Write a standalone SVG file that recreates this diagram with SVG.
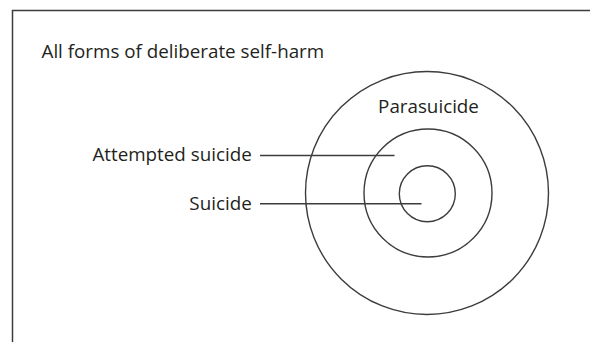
<svg xmlns="http://www.w3.org/2000/svg" width="590" height="342" viewBox="0 0 590 342">
<style>
.frame{fill:none;stroke:#3c3c3c;stroke-width:1.5}
.ring{fill:none;stroke:#3c3c3c;stroke-width:1.4}
.lead{stroke:#3c3c3c;stroke-width:1.4}
text{font-family:"Open Sans","Noto Sans",sans-serif;font-size:18.8px;fill:#231f20}
</style>
<rect width="590" height="342" fill="#fff"/>
<path class="frame" d="M12.5 342 V10.5 H590"/>
<text x="41.5" y="57.7">All forms of deliberate self-harm</text>
<g id="parasuicide">
<circle class="ring" cx="427" cy="193" r="121.5"/>
<text x="428.5" y="113" text-anchor="middle">Parasuicide</text>
</g>
<g id="attempted-suicide">
<circle class="ring" cx="428" cy="193" r="64"/>
<text x="251.7" y="161" text-anchor="end">Attempted suicide</text>
</g>
<g id="suicide">
<circle class="ring" cx="427.3" cy="193.7" r="28"/>
<text x="251.7" y="209.5" text-anchor="end">Suicide</text>
</g>
<g id="connectors">
<line class="lead" x1="260" y1="155.5" x2="394.5" y2="155.5"/>
<line class="lead" x1="260" y1="203.8" x2="421.5" y2="203.8"/>
</g>
</svg>
